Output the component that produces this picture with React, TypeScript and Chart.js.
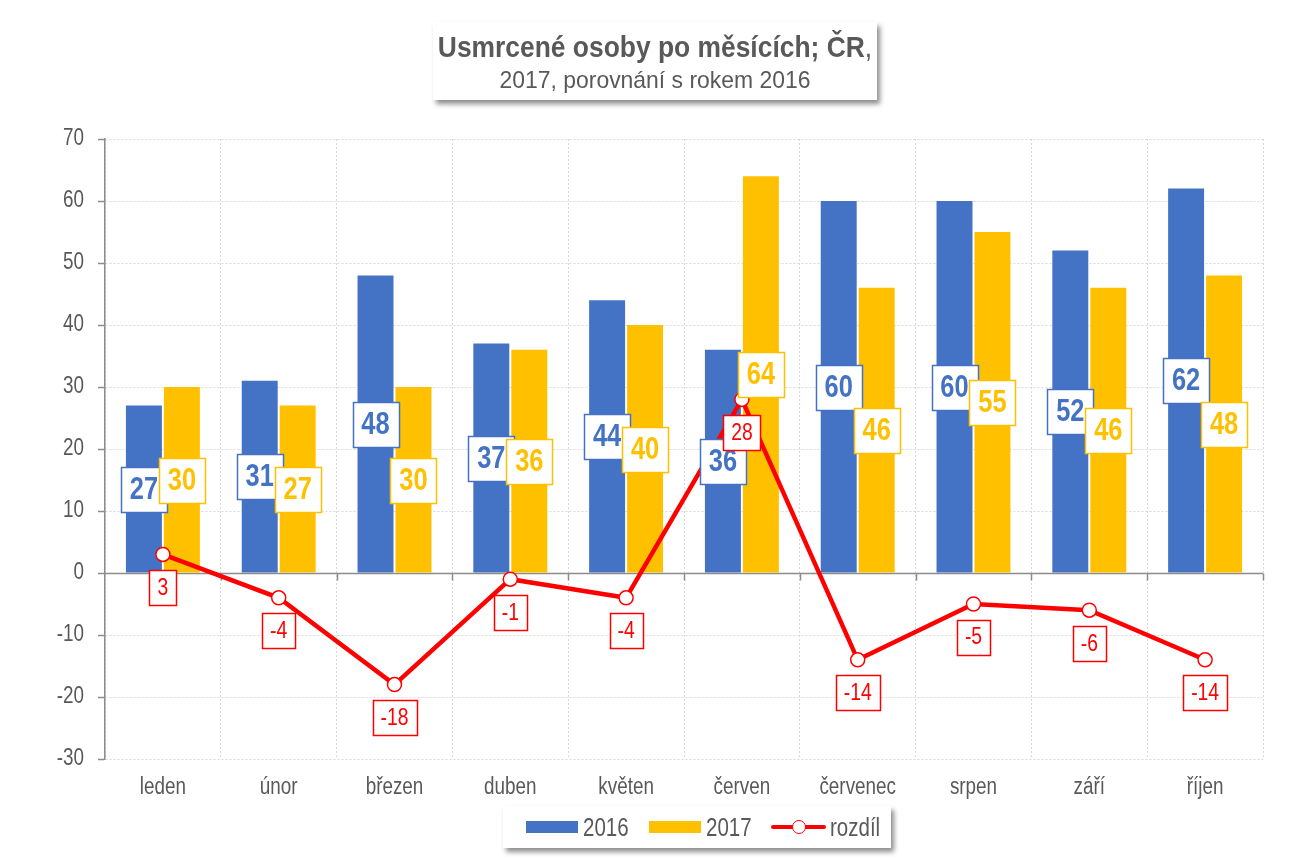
import React, { useEffect, useRef } from "react";
import { Chart, registerables } from "chart.js";

Chart.register(...registerables);

const categories = ["leden", "únor", "březen", "duben", "květen", "červen", "červenec", "srpen", "září", "říjen"];
const values2016 = [27, 31, 48, 37, 44, 36, 60, 60, 52, 62];
const values2017 = [30, 27, 30, 36, 40, 64, 46, 55, 46, 48];
const diffValues = [3, -4, -18, -1, -4, 28, -14, -5, -6, -14];
const yMin = -30;
const yMax = 70;
const yStep = 10;

const BLUE = "#4472C4";
const YELLOW = "#FFC000";
const RED = "#FF0000";
const TEXT = "#595959";
const AXIS = "#8C8C8C";
const GRID = "#D9D9D9";
const FONT = "'Liberation Sans', Arial, sans-serif";
const NARROW = 0.82;

function fillScaled(ctx: CanvasRenderingContext2D, text: string, x: number, y: number, scale: number, align: CanvasTextAlign) {
  ctx.save();
  ctx.translate(x, y);
  ctx.scale(scale, 1);
  ctx.textAlign = align;
  ctx.textBaseline = "middle";
  ctx.fillText(text, 0, 0);
  ctx.restore();
}

function drawBox(ctx: CanvasRenderingContext2D, text: string, cx: number, cy: number, opts: { color: string; font: string; scale: number; padX: number; h: number; minW: number }) {
  ctx.save();
  ctx.font = opts.font;
  const tw = ctx.measureText(text).width * opts.scale;
  const w = Math.max(opts.minW, Math.round(tw + opts.padX * 2));
  const h = opts.h;
  const x = Math.round(cx - w / 2) + 0.5;
  const y = Math.round(cy - h / 2) + 0.5;
  ctx.fillStyle = "#FFFFFF";
  ctx.fillRect(x, y, w, h);
  ctx.strokeStyle = opts.color;
  ctx.lineWidth = 1.5;
  ctx.strokeRect(x, y, w, h);
  ctx.fillStyle = opts.color;
  fillScaled(ctx, text, cx, cy + 1, opts.scale, "center");
  ctx.restore();
}

const zeroLinePlugin = {
  id: "zeroLine",
  beforeDatasetsDraw(chart: any) {
    const { ctx, chartArea, scales } = chart;
    const y0 = Math.round(scales.y.getPixelForValue(0)) + 0.5;
    ctx.save();
    ctx.strokeStyle = AXIS;
    ctx.lineWidth = 1.5;
    ctx.beginPath();
    ctx.moveTo(chartArea.left, y0);
    ctx.lineTo(chartArea.right, y0);
    const n = categories.length;
    const step = (chartArea.right - chartArea.left) / n;
    for (let i = 1; i <= n; i++) {
      const x = Math.round(chartArea.left + step * i) + 0.5;
      ctx.moveTo(x, y0);
      ctx.lineTo(x, y0 + 7);
    }
    ctx.stroke();
    ctx.restore();
  },
};

const tickLabelsPlugin = {
  id: "tickLabels",
  afterDraw(chart: any) {
    const { ctx, scales, chartArea } = chart;
    ctx.save();
    ctx.fillStyle = TEXT;
    ctx.font = `23px ${FONT}`;
    scales.y.ticks.forEach((t: any) => {
      const y = scales.y.getPixelForValue(t.value);
      fillScaled(ctx, String(t.value), chartArea.left - 21, y, NARROW, "right");
    });
    categories.forEach((c, i) => {
      const x = scales.x.getPixelForValue(i);
      fillScaled(ctx, c, x, chartArea.bottom + 29, NARROW, "center");
    });
    ctx.restore();
  },
};

const labelsPlugin = {
  id: "boxLabels",
  afterDatasetsDraw(chart: any) {
    const { ctx, scales } = chart;
    const barSets = [
      { idx: 1, data: values2016, color: BLUE },
      { idx: 2, data: values2017, color: YELLOW },
    ];
    barSets.forEach((s) => {
      const meta = chart.getDatasetMeta(s.idx);
      meta.data.forEach((el: any, j: number) => {
        const v = s.data[j];
        const cy = scales.y.getPixelForValue(v / 2);
        drawBox(ctx, String(v), el.x, cy, { color: s.color, font: `bold 31px ${FONT}`, scale: NARROW, padX: 9, h: 45, minW: 45 });
      });
    });
    const lineMeta = chart.getDatasetMeta(0);
    lineMeta.data.forEach((el: any, j: number) => {
      const v = diffValues[j];
      drawBox(ctx, String(v), el.x, el.y + 33, { color: RED, font: `23px ${FONT}`, scale: 0.84, padX: 8, h: 35, minW: 27 });
    });
  },
};

export default function App() {
  const ref = useRef<HTMLCanvasElement | null>(null);

  useEffect(() => {
    if (!ref.current) return;
    const chart = new Chart(ref.current, {
      type: "bar",
      data: {
        labels: categories,
        datasets: [
          {
            type: "line",
            label: "rozdíl",
            data: diffValues,
            borderColor: RED,
            borderWidth: 4.5,
            backgroundColor: "#FFFFFF",
            pointBackgroundColor: "#FFFFFF",
            pointBorderColor: RED,
            pointBorderWidth: 1.5,
            pointRadius: 7,
            tension: 0,
            order: 0,
          } as any,
          {
            label: "2016",
            data: values2016,
            backgroundColor: BLUE,
            categoryPercentage: 0.656,
            barPercentage: 0.947,
            order: 1,
          },
          {
            label: "2017",
            data: values2017,
            backgroundColor: YELLOW,
            categoryPercentage: 0.656,
            barPercentage: 0.947,
            order: 1,
          },
        ],
      },
      options: {
        responsive: false,
        animation: false,
        layout: { padding: { top: 139, right: 32, bottom: 0, left: 0 } },
        plugins: {
          legend: { display: false },
          title: { display: false },
          tooltip: { enabled: false },
        },
        scales: {
          x: {
            offset: true,
            grid: {
              display: true,
              offset: true,
              color: GRID,
              lineWidth: 1,
              drawTicks: false,
            },
            border: { display: false, dash: [2, 2] },
            ticks: { display: false },
            afterFit: (s: any) => {
              s.height = 104;
            },
          },
          y: {
            min: yMin,
            max: yMax,
            ticks: {
              stepSize: yStep,
              display: false,
            },
            grid: {
              color: GRID,
              lineWidth: 1,
              tickLength: 7,
              tickColor: AXIS,
              tickWidth: 1.5,
              tickBorderDash: [],
            },
            border: { display: true, color: AXIS, width: 1.5, dash: [2, 2] },
            afterFit: (s: any) => {
              s.width = 105;
            },
          },
        },
      },
      plugins: [zeroLinePlugin, labelsPlugin, tickLabelsPlugin],
    });
    return () => chart.destroy();
  }, []);

  const legendText: React.CSSProperties = {
    fontFamily: FONT,
    fontSize: 25,
    color: TEXT,
    lineHeight: "24px",
    position: "absolute",
    top: 9,
    transform: `scaleX(${NARROW})`,
    transformOrigin: "left center",
    whiteSpace: "nowrap",
  };

  const titleLine = (top: number, scale: number): React.CSSProperties => ({
    position: "absolute",
    left: "50%",
    top,
    transform: `translateX(-50%) scaleX(${scale})`,
    transformOrigin: "center center",
    whiteSpace: "nowrap",
  });

  return (
    <div style={{ position: "fixed", left: 0, top: 0, width: 1295, height: 863, background: "#FFFFFF", overflow: "hidden" }}>
      <canvas ref={ref} width={1295} height={863} style={{ position: "absolute", left: 0, top: 0, width: 1295, height: 863 }} />
      <div
        style={{
          position: "absolute",
          left: 433,
          top: 22,
          width: 444,
          height: 78,
          background: "#FFFFFF",
          boxShadow: "3px 4px 5px rgba(0,0,0,0.45)",
          fontFamily: FONT,
          color: TEXT,
        }}
      >
        <div style={{ ...titleLine(8, 0.88), fontSize: 30, lineHeight: "34px" }}>
          <span style={{ fontWeight: "bold" }}>Usmrcené osoby po měsících; ČR</span>,
        </div>
        <div style={{ ...titleLine(44, 0.955), fontSize: 24, lineHeight: "28px" }}>2017, porovnání s rokem 2016</div>
      </div>
      <div
        style={{
          position: "absolute",
          left: 503,
          top: 806,
          width: 388,
          height: 42,
          background: "#FFFFFF",
          boxShadow: "3px 4px 5px rgba(0,0,0,0.45)",
        }}
      >
        <div style={{ position: "absolute", left: 23, top: 15, width: 52, height: 12, background: BLUE }} />
        <div style={{ ...legendText, left: 80 }}>2016</div>
        <div style={{ position: "absolute", left: 146, top: 15, width: 52, height: 12, background: YELLOW }} />
        <div style={{ ...legendText, left: 203 }}>2017</div>
        <div style={{ position: "absolute", left: 268, top: 19, width: 55, height: 4, background: RED, borderRadius: 2 }} />
        <div
          style={{
            position: "absolute",
            left: 289,
            top: 14,
            width: 14,
            height: 14,
            boxSizing: "border-box",
            borderRadius: "50%",
            background: "#FFFFFF",
            border: `1.5px solid ${RED}`,
          }}
        />
        <div style={{ ...legendText, left: 327 }}>rozdíl</div>
      </div>
    </div>
  );
}
